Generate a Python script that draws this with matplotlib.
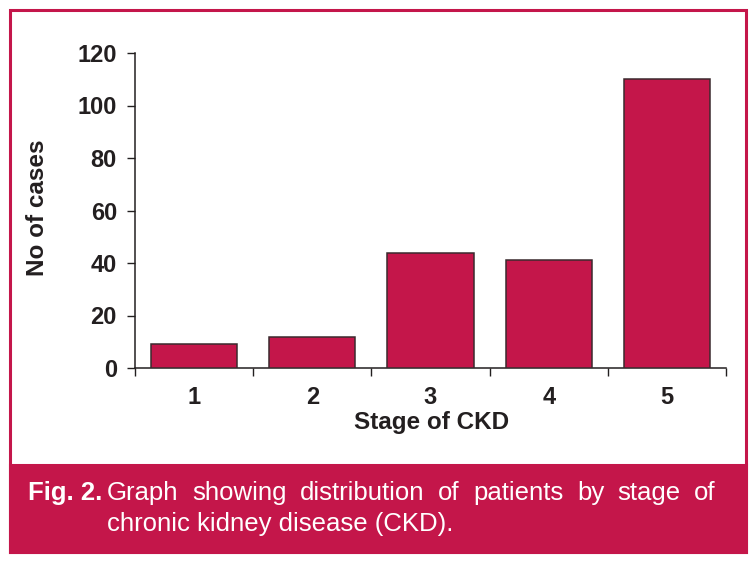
import matplotlib
matplotlib.use("Agg")
import matplotlib.pyplot as plt
from matplotlib.patches import Rectangle

plt.rcParams['font.family'] = ['Liberation Sans', 'DejaVu Sans']

stages = ['1', '2', '3', '4', '5']
cases = [9, 12, 44, 41, 110]
y_ticks = [0, 20, 40, 60, 80, 100, 120]
caption_bold = "Fig. 2."
caption_line1 = "Graph showing distribution of patients by stage of"
caption_line2 = "chronic kidney disease (CKD)."

red = '#C4164A'
ink = '#231F20'
W, H = 755, 562

fig = plt.figure(figsize=(W / 100, H / 100), dpi=100)

# frame round the figure and the caption band
fig.patches.append(Rectangle((9.5 / W, 10 / H), 736 / W, 542 / H, transform=fig.transFigure,
                             facecolor='white', edgecolor=red, linewidth=2.2, zorder=-2))
fig.patches.append(Rectangle((9.5 / W, 10 / H), 736 / W, 87 / H, transform=fig.transFigure,
                             facecolor=red, edgecolor=red, linewidth=2.2, zorder=-1))

ax = fig.add_axes([135 / W, 1 - 368 / H, 591 / W, 315 / H])
ax.set_zorder(2)
ax.patch.set_alpha(0)
x = list(range(1, len(stages) + 1))
ax.bar(x, cases, width=0.73, color=red, edgecolor='#3A2A2E', linewidth=1.1, zorder=3)

ax.set_xlim(0.5, len(stages) + 0.5)
ax.set_ylim(0, 120)
ax.set_yticks(y_ticks)
ax.set_yticklabels([str(v) for v in y_ticks], fontsize=17, fontweight='bold', color=ink)

# boundary ticks without labels, labels at bar centres
ax.set_xticks([i + 0.5 for i in range(len(stages) + 1)])
ax.set_xticklabels([])
ax.set_xticks(x, minor=True)
ax.set_xticklabels(stages, minor=True, fontsize=17, fontweight='bold', color=ink)
ax.tick_params(axis='x', which='major', direction='out', length=6, width=1, color=ink)
ax.tick_params(axis='x', which='minor', length=0, pad=13)
ax.tick_params(axis='y', direction='out', length=6, width=1, color=ink, pad=7)

for s in ['top', 'right']:
    ax.spines[s].set_visible(False)
for s in ['left', 'bottom']:
    ax.spines[s].set_color(ink)
    ax.spines[s].set_linewidth(1.1)

fig.text(432 / W, 1 - 422 / H, "Stage of CKD", fontsize=17.5, fontweight='bold', color=ink,
         ha='center', va='center')
fig.text(37 / W, 1 - 208 / H, "No of cases", fontsize=17.5, fontweight='bold', color=ink,
         ha='center', va='center', rotation=90)

# caption, first line justified between 107 and 716 px
fig.text(28 / W, 1 - 493 / H, caption_bold, fontsize=18.5, fontweight='bold', color='white',
         va='center', ha='left')
words = caption_line1.split()
objs = [fig.text(0, 1 - 493 / H, w, fontsize=18.5, color='white', va='center', ha='left') for w in words]
renderer = fig.canvas.get_renderer()
widths = [o.get_window_extent(renderer).width for o in objs]
left, right = 107, 716
gap = (right - left - sum(widths)) / (len(words) - 1)
pos = left
for o, w in zip(objs, widths):
    o.set_x(pos / W)
    pos += w + gap
fig.text(left / W, 1 - 524 / H, caption_line2, fontsize=18.5, color='white', va='center', ha='left')

fig.savefig('out.png', dpi=100)
